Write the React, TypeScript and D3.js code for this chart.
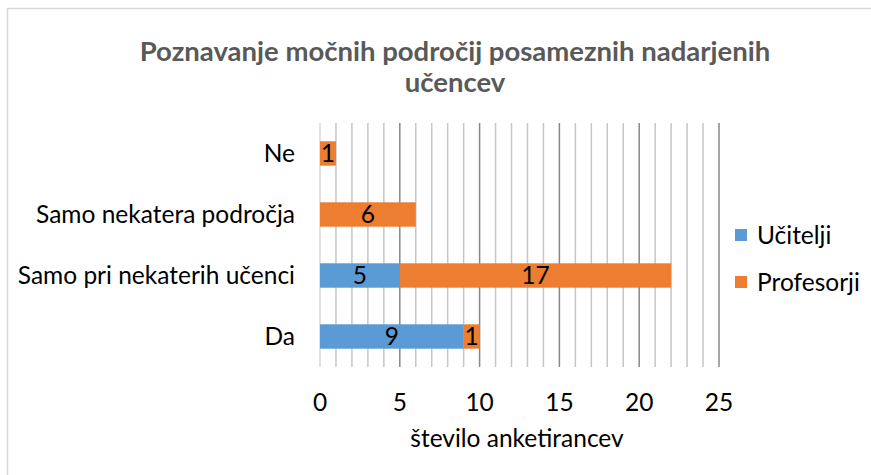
import React from 'react';
import * as d3 from 'd3';

// values
const categories = ['Ne', 'Samo nekatera področja', 'Samo pri nekaterih učenci', 'Da'];
const ucitelji = [0, 0, 5, 9];
const profesorji = [1, 6, 17, 1];
const seriesNames = ['Učitelji', 'Profesorji'];
const seriesColors = ['#5B9BD5', '#ED7D31'];
const xTicks = [0, 5, 10, 15, 20, 25];
const titleLines = ['Poznavanje močnih področij posameznih nadarjenih', 'učencev'];
const xAxisTitle = 'število anketirancev';

const W = 871;
const H = 475;
const FONT = 'Lato, "Open Sans", sans-serif';
const FS = 24.5;

const App = () => {
  const x = d3.scaleLinear().domain([0, 25]).range([320, 719]);
  const y = d3
    .scaleBand()
    .domain(categories)
    .range([123, 367])
    .paddingInner(0.6)
    .paddingOuter(0.3);

  const rows = categories.map((c, i) => ({ c, vals: [ucitelji[i], profesorji[i]] }));
  const minor = d3.range(0, 26);

  return (
    <svg width={W} height={H} style={{ position: 'absolute', left: 0, top: 0, background: '#fff' }}>
      <rect x={7.5} y={8.5} width={W + 10} height={H + 10} fill="#fff" stroke="#d9d9d9" strokeWidth={1.5} />

      {titleLines.map((t, i) => (
        <text
          key={t}
          x={455}
          y={61 + i * 31}
          textAnchor="middle"
          fontFamily={FONT}
          fontWeight="bold"
          fontSize={27.5}
          fill="#595959"
        >
          {t}
        </text>
      ))}

      {minor.map(v => (
        <line
          key={v}
          x1={x(v)}
          x2={x(v)}
          y1={123}
          y2={367}
          stroke={v === 0 ? '#d9d9d9' : v % 5 === 0 ? '#878787' : '#c6c6c6'}
          strokeWidth={1.5}
        />
      ))}

      {rows.map(r => {
        let acc = 0;
        return (
          <g key={r.c}>
            {r.vals.map((v, s) => {
              const x0 = acc;
              acc += v;
              if (!v) return null;
              return (
                <g key={s}>
                  <rect
                    x={x(x0)}
                    y={y(r.c)}
                    width={x(x0 + v) - x(x0)}
                    height={y.bandwidth()}
                    fill={seriesColors[s]}
                  />
                  <text
                    x={(x(x0) + x(x0 + v)) / 2}
                    y={y(r.c)! + y.bandwidth() / 2}
                    dy="0.36em"
                    textAnchor="middle"
                    fontFamily={FONT}
                    fontSize={FS}
                    fill="#000"
                  >
                    {v}
                  </text>
                </g>
              );
            })}
            <text
              x={295}
              y={y(r.c)! + y.bandwidth() / 2}
              dy="0.36em"
              textAnchor="end"
              fontFamily={FONT}
              fontSize={FS}
              fill="#000"
            >
              {r.c}
            </text>
          </g>
        );
      })}

      {xTicks.map(t => (
        <text key={t} x={x(t)} y={411} textAnchor="middle" fontFamily={FONT} fontSize={FS} fill="#000">
          {t}
        </text>
      ))}

      <text x={517} y={447} textAnchor="middle" fontFamily={FONT} fontSize={FS} fill="#000">
        {xAxisTitle}
      </text>

      {seriesNames.map((n, i) => (
        <g key={n} transform={`translate(735, ${235 + i * 47})`}>
          <rect x={0} y={-6} width={12} height={12} fill={seriesColors[i]} />
          <text x={22} y={0} dy="0.36em" fontFamily={FONT} fontSize={FS} fill="#000">
            {n}
          </text>
        </g>
      ))}
    </svg>
  );
};

export default App;
